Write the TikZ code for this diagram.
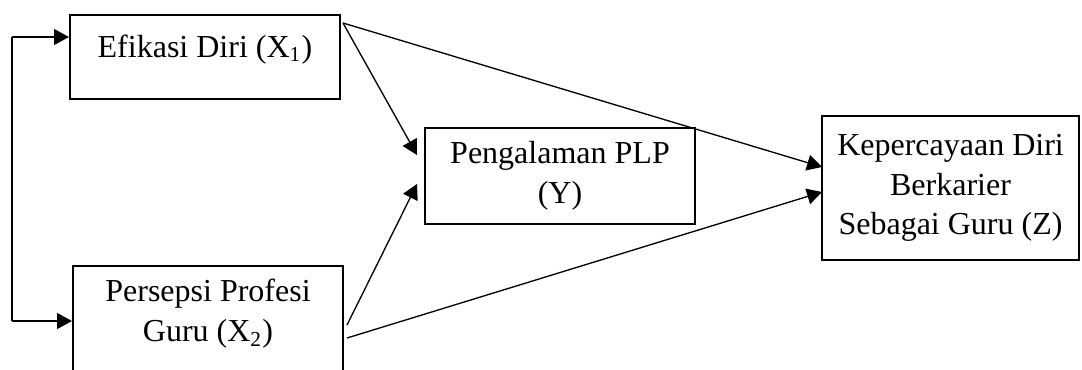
\documentclass[tikz,border=0pt]{standalone}
\usepackage{fontspec}
\setmainfont{Liberation Serif}
\usetikzlibrary{arrows.meta}

\begin{document}
\begin{tikzpicture}[x=0.375pt, y=-0.375pt,
    box/.style={draw, line width=0.8pt, inner sep=4pt, align=center,
        font=\fontsize{12pt}{14.8pt}\selectfont, minimum width=101.25pt},
    arr/.style={line width=0.5pt, -{Triangle[length=5.6pt,width=6pt]}}]
    \useasboundingbox (0,0) rectangle (1082,369);
    \clip (0,0) rectangle (1082,369);

    \node[box, text height=11.75pt, text depth=11.75pt] (X1) at (205,57) {Efikasi Diri (X\textsubscript{1})};
    \node[box, anchor=north, text height=24.2pt, text depth=50pt] (X2) at (208,265) {Persepsi Profesi\\Guru (X\textsubscript{2})};
    \node[box, minimum height=36pt] (Y) at (560,176) {Pengalaman PLP\\(Y)};
    \node[box, minimum width=96.4pt, minimum height=54pt] (Z) at (950.5,188) {Kepercayaan Diri\\Berkarier\\Sebagai Guru (Z)};

    \coordinate (A) at (12,37);
    \coordinate (B) at (12,321);
    \coordinate (C) at (343,23);
    \coordinate (D) at (347,325);
    \coordinate (E) at (347,338);
    \coordinate (F) at (417,155);
    \coordinate (G) at (417,184);
    \coordinate (H) at (822,167);
    \coordinate (I) at (822,192);

    \draw[line width=0.5pt] (A) -- (B);
    \draw[arr] (A) -- (A -| X1.west);
    \draw[arr] (B) -- (B -| X2.west);

    \draw[arr] (C) -- (F);
    \draw[arr] (C) -- (H);
    \draw[arr] (D) -- (G);
    \draw[arr] (E) -- (I);
\end{tikzpicture}
\end{document}
